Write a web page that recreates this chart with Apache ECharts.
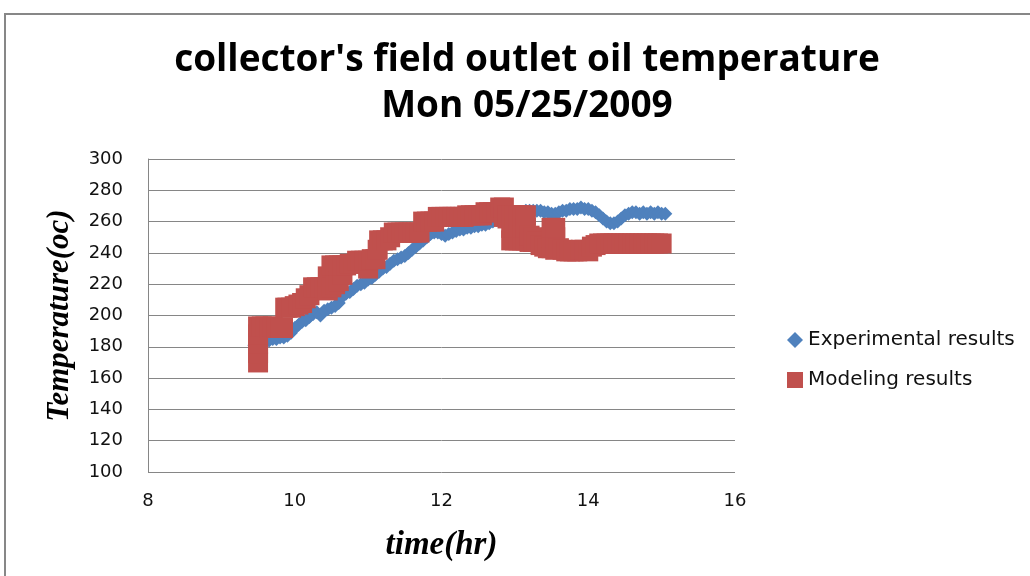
<!DOCTYPE html>
<html>
<head>
<meta charset="utf-8">
<script src="https://cdn.jsdelivr.net/npm/echarts@6/dist/echarts.min.js"></script>
<style>html,body{margin:0;padding:0;background:#fff;}#c{width:1030px;height:576px;}</style>
</head>
<body>
<div id="c"></div>
<script>
var titleLines = ["collector's field outlet oil temperature", "Mon 05/25/2009"];
var xAxisTitle = "time(hr)";
var yAxisTitle = "Temperature(oc)";
var seriesNames = ["Experimental results", "Modeling results"];
var xTicks = [8, 10, 12, 14, 16];
var yTicks = [100, 120, 140, 160, 180, 200, 220, 240, 260, 280, 300];

var expHours = [9.45,9.50,9.55,9.60,9.65,9.70,9.75,9.80,9.85,9.90,9.95,10.00,10.05,10.10,10.15,10.20,10.25,10.30,10.35,10.40,10.45,10.50,10.55,10.60,10.65,10.70,10.75,10.80,10.85,10.90,10.95,11.00,11.05,11.10,11.15,11.20,11.25,11.30,11.35,11.40,11.45,11.50,11.55,11.60,11.65,11.70,11.75,11.80,11.85,11.90,11.95,12.00,12.05,12.10,12.15,12.20,12.25,12.30,12.35,12.40,12.45,12.50,12.55,12.60,12.65,12.70,12.75,12.80,12.85,12.90,12.95,13.00,13.05,13.10,13.15,13.20,13.25,13.30,13.35,13.40,13.45,13.50,13.55,13.60,13.65,13.70,13.75,13.80,13.85,13.90,13.95,14.00,14.05,14.10,14.15,14.20,14.25,14.30,14.35,14.40,14.45,14.50,14.55,14.60,14.65,14.70,14.75,14.80,14.85,14.90,14.95,15.00,15.05];
var expTemps = [181,182,183,184,184,185,185,186,186,187,189,192,194,196,197,199,201,202,200,203,204,205,206,208,212,214,215,217,219,220,221,223,224,226,228,230,231,233,235,236,237,238,240,242,244,246,248,250,252,253,253,252,251,252,253,254,255,255,256,256,257,257,258,258,259,260,261,262,263,264,264,265,266,266,267,267,267,267,267,266,266,265,265,266,267,267,268,268,268,269,268,268,267,266,264,262,260,259,259,260,262,264,265,266,266,265,266,265,266,265,266,265,265];

var modHours = [9.50,9.50,9.50,9.50,9.50,9.55,9.60,9.65,9.70,9.75,9.80,9.84,9.87,9.90,9.95,10.00,10.05,10.10,10.15,10.20,10.25,10.30,10.35,10.40,10.45,10.45,10.50,10.50,10.55,10.55,10.60,10.60,10.65,10.65,10.70,10.75,10.80,10.85,10.90,10.95,11.00,11.00,11.05,11.10,11.13,11.15,11.20,11.25,11.30,11.35,11.40,11.45,11.50,11.55,11.60,11.65,11.70,11.75,11.80,11.85,11.90,11.95,12.00,12.05,12.10,12.15,12.20,12.25,12.30,12.35,12.40,12.45,12.50,12.55,12.60,12.65,12.70,12.75,12.80,12.85,12.85,12.90,12.90,12.95,12.95,12.95,13.00,13.00,13.00,13.05,13.05,13.05,13.10,13.10,13.10,13.15,13.15,13.15,13.20,13.20,13.25,13.25,13.30,13.35,13.40,13.45,13.50,13.50,13.50,13.55,13.55,13.55,13.60,13.65,13.70,13.75,13.80,13.85,13.90,13.95,14.00,14.05,14.10,14.15,14.20,14.25,14.30,14.35,14.40,14.45,14.50,14.55,14.60,14.65,14.70,14.75,14.80,14.85,14.90,14.95,15.00];
var modTemps = [170,176,182,188,193,193,193,192,193,192,192,192,205,205,205,206,207,208,211,213,218,218,218,218,216,225,218,232,220,232,222,232,226,232,232,233,233,235,235,235,230,235,236,236,242,248,248,248,250,253,253,253,253,253,253,253,253,260,260,260,260,263,263,263,263,263,263,263,263,264,264,264,264,264,266,266,266,266,269,263,269,262,264,248,256,264,248,256,264,248,256,264,248,256,264,248,256,264,247,251,247,250,247,245,244,243,243,250,256,242,250,256,243,242,241,241,241,241,242,242,241,244,245,246,246,246,246,246,246,246,246,246,246,246,246,246,246,246,246,246,246];

function pairs(xs, ys) { var out = []; for (var i = 0; i < xs.length; i++) out.push([xs[i], ys[i]]); return out; }

var chart = echarts.init(document.getElementById('c'), null, {renderer: 'canvas'});
var tickFont = 'DejaVu Sans';
chart.setOption({
  animation: false,
  backgroundColor: '#ffffff',
  title: {
    text: titleLines.join('\n'),
    left: 527, top: 37, textAlign: 'center', padding: 0,
    textStyle: {fontFamily: 'Open Sans', fontWeight: 'bold', fontSize: 37, lineHeight: 46, color: '#000'}
  },
  graphic: [{
    type: 'rect', silent: true, z: -1,
    shape: {x: 5, y: 14, width: 1060, height: 620},
    style: {fill: 'none', stroke: '#878787', lineWidth: 2}
  }],
  legend: {
    orient: 'vertical', left: 787, top: 330, itemGap: 20, padding: 0,
    itemWidth: 16, itemHeight: 16,
    textStyle: {fontFamily: tickFont, fontSize: 20, lineHeight: 20, color: '#111'},
    data: [{name: seriesNames[0], icon: 'diamond'}, {name: seriesNames[1], icon: 'rect'}]
  },
  grid: {left: 148, right: 295, top: 159, bottom: 104, containLabel: false},
  xAxis: {
    type: 'value', min: xTicks[0], max: xTicks[xTicks.length-1], interval: 2,
    name: xAxisTitle, nameLocation: 'middle', nameGap: 57,
    nameTextStyle: {fontFamily: 'Liberation Serif', fontStyle: 'italic', fontWeight: 'bold', fontSize: 33, color: '#000'},
    axisLine: {show: false},
    axisTick: {show: false},
    splitLine: {show: false},
    axisLabel: {fontFamily: tickFont, fontSize: 18, color: '#111', margin: 20}
  },
  yAxis: {
    type: 'value', min: yTicks[0], max: yTicks[yTicks.length-1], interval: 20,
    name: yAxisTitle, nameLocation: 'middle', nameGap: 73, nameRotate: 90,
    nameTextStyle: {fontFamily: 'Liberation Serif', fontStyle: 'italic', fontWeight: 'bold', fontSize: 31, color: '#000'},
    axisLine: {show: true, lineStyle: {color: '#868686', width: 1}},
    axisTick: {show: false},
    splitLine: {show: true, lineStyle: {color: '#868686', width: 1}},
    axisLabel: {fontFamily: tickFont, fontSize: 18, color: '#111', margin: 25}
  },
  series: [
    {name: seriesNames[0], type: 'scatter', symbol: 'diamond', symbolSize: 14,
     itemStyle: {color: '#4F81BD', opacity: 1}, data: pairs(expHours, expTemps)},
    {name: seriesNames[1], type: 'scatter', symbol: 'rect', symbolSize: 20,
     itemStyle: {color: '#C0504D', opacity: 1}, data: pairs(modHours, modTemps)}
  ]
});
</script>
</body>
</html>
